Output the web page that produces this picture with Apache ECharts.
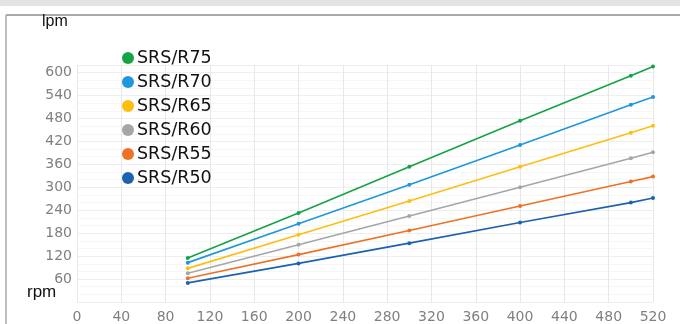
<!DOCTYPE html>
<html><head><meta charset="utf-8">
<script src="https://cdn.jsdelivr.net/npm/echarts@6/dist/echarts.min.js"></script>
<style>html,body{margin:0;padding:0;background:#fff}#c{width:680px;height:324px}</style>
</head><body><div id="c"></div>
<script>
const rpm = [100, 200, 300, 400, 500, 520];
const names = ['SRS/R75','SRS/R70','SRS/R65','SRS/R60','SRS/R55','SRS/R50'];
const colors = ['#14a345','#1f97db','#fdbf0f','#a4a6a8','#ee7126','#1c62b0'];
const r75 = [115, 233, 354, 474, 592, 616];
const r70 = [103, 205, 307, 411, 516, 536];
const r65 = [88, 176, 264, 354, 443, 461];
const r60 = [75, 150, 225, 300, 376, 392];
const r55 = [62, 124, 187, 251, 315, 328];
const r50 = [50, 101, 154, 208, 260, 272];
const xTicks = [0,40,80,120,160,200,240,280,320,360,400,440,480,520];
const yTicks = [60,120,180,240,300,360,420,480,540,600];
const values = [r75, r70, r65, r60, r55, r50];

const chart = echarts.init(document.getElementById('c'));
chart.setOption({
  animation: false,
  graphic: [
    {type:'rect', shape:{x:0,y:0,width:680,height:6}, style:{fill:'#e3e3e3'}},
    {type:'line', shape:{x1:6,y1:15,x2:680,y2:15}, style:{stroke:'#a9a9a9', lineWidth:2}},
    {type:'line', shape:{x1:6,y1:15,x2:6,y2:324}, style:{stroke:'#a9a9a9', lineWidth:1.5}},
    {type:'text', left:42, top:14, style:{text:'lpm', fontSize:16, fontFamily:'Liberation Sans Narrow, Liberation Sans', fill:'#111'}},
    {type:'text', left:27, top:284, style:{text:'rpm', fontSize:17, fontFamily:'Liberation Sans', fill:'#111'}}
  ],
  grid: {left:77, right:27, top:65, bottom:22, containLabel:false},
  legend: {
    orient:'vertical', left:117, top:44, itemWidth:12, itemHeight:12, itemGap:6,
    icon:'circle',
    textStyle:{fontSize:17.5, fontFamily:'DejaVu Sans', color:'#111', padding:[0,0,0,-2]},
    data:names
  },
  xAxis: {
    type:'value', min:0, max:520, interval:40,
    axisLine:{show:false}, axisTick:{show:false},
    axisLabel:{color:'#808080', fontSize:14, fontFamily:'DejaVu Sans', margin:8,
      formatter: v => xTicks.indexOf(v) >= 0 ? String(v) : ''},
    splitLine:{show:true, lineStyle:{color:'#e8e8e8', width:1}},
    minorTick:{show:false},
    minorSplitLine:{show:false}
  },
  yAxis: {
    type:'value', min:0, max:620, interval:60,
    axisLine:{show:false}, axisTick:{show:false},
    axisLabel:{color:'#808080', fontSize:14, fontFamily:'DejaVu Sans', margin:5,
      formatter: v => yTicks.indexOf(v) >= 0 ? String(v) : ''},
    splitLine:{show:true, lineStyle:{color:'#eeeeee', width:1}},
    minorTick:{show:false, splitNumber:3},
    minorSplitLine:{show:true, lineStyle:{color:'#f6f6f6'}}
  },
  series: names.map((n,i)=>({
    name:n, type:'line', data: rpm.map((x,j)=>[x, values[i][j]]),
    color: colors[i], symbol:'circle', symbolSize:4, showSymbol:true,
    lineStyle:{width:1.6}
  }))
});
</script></body></html>
